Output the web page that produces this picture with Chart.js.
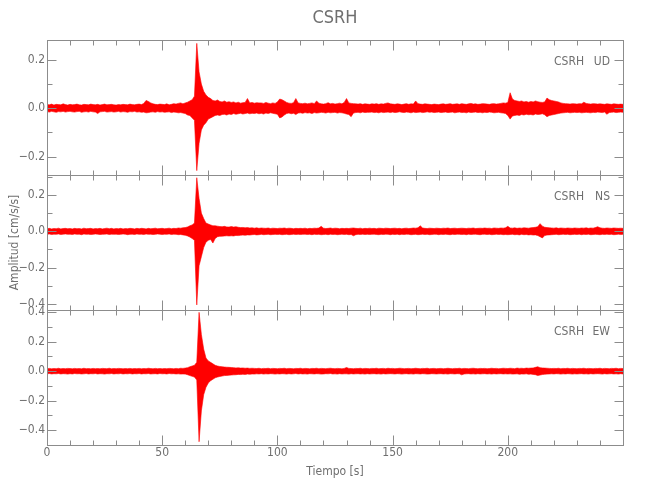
<!DOCTYPE html>
<html>
<head>
<meta charset="utf-8">
<title>CSRH</title>
<script src="https://cdn.jsdelivr.net/npm/chart.js@4.4.1/dist/chart.umd.min.js"></script>
<style>
  html, body { margin: 0; padding: 0; background: #fff; }
  #wrap { width: 650px; height: 500px; }
</style>
</head>
<body>
<div id="wrap"><canvas id="sismo" width="650" height="500"></canvas></div>
<script>
const estacion = 'CSRH';
const componentes = ['UD', 'NS', 'EW'];
const dt = 1;          // s entre valores leidos
const tMax = 249.99;   // fin del registro
const xTicks = [0, 50, 100, 150, 200];

const udSup = [
  .015,.014,.017,.013,.016,.015,.014,.018,.015,.013, .016,.014,.015,.017,.014,.013,.016,.015,.014,.017,
  .015,.014,.016,.013,.015,.017,.014,.015,.016,.014, .013,.015,.014,.016,.015,.014,.017,.015,.014,.016,
  .017,.015,.020,.032,.028,.022,.018,.016,.015,.017, .016,.015,.018,.014,.016,.019,.017,.020,.022,.018,
  .022,.025,.030,.035,.050,.268,.150,.100,.070,.055, .045,.040,.032,.030,.034,.028,.026,.030,.025,.027,
  .024,.026,.022,.025,.021,.023,.024,.040,.022,.024, .021,.023,.022,.022,.020,.024,.021,.019,.022,.020,
  .026,.038,.035,.030,.024,.021,.020,.023,.040,.022, .020,.019,.021,.018,.020,.022,.019,.030,.021,.018,
  .017,.019,.023,.018,.020,.017,.019,.021,.018,.024, .040,.022,.020,.019,.018,.017,.019,.016,.018,.017,
  .016,.018,.017,.019,.016,.018,.017,.020,.022,.018, .017,.016,.018,.017,.015,.017,.019,.016,.018,.017,
  .030,.019,.017,.016,.018,.017,.016,.015,.017,.016, .015,.017,.018,.016,.017,.019,.016,.017,.018,.016,
  .019,.017,.016,.018,.020,.017,.018,.016,.017,.019, .018,.017,.016,.018,.019,.017,.018,.020,.022,.021,
  .024,.064,.038,.032,.030,.028,.030,.026,.028,.025, .028,.026,.030,.027,.025,.024,.026,.042,.035,.032,
  .030,.028,.026,.022,.020,.019,.018,.017,.019,.018, .017,.019,.018,.025,.020,.018,.017,.019,.018,.017,
  .018,.017,.016,.018,.017,.016,.018,.017,.016,.017,.016
];
const udInf = [
  -.014,-.016,-.013,-.015,-.017,-.014,-.015,-.013,-.016,-.014, -.013,-.015,-.016,-.014,-.013,-.017,-.015,-.014,-.016,-.013,
  -.015,-.016,-.022,-.015,-.014,-.013,-.016,-.015,-.014,-.016, -.015,-.013,-.016,-.014,-.015,-.017,-.014,-.015,-.013,-.016,
  -.015,-.017,-.016,-.019,-.018,-.016,-.015,-.017,-.014,-.016, -.015,-.017,-.016,-.015,-.018,-.016,-.017,-.019,-.018,-.020,
  -.022,-.028,-.030,-.040,-.050,-.258,-.145,-.090,-.070,-.060, -.045,-.040,-.035,-.030,-.028,-.030,-.026,-.025,-.028,-.024,
  -.026,-.022,-.025,-.023,-.021,-.024,-.022,-.020,-.023,-.021, -.022,-.020,-.023,-.021,-.024,-.020,-.022,-.019,-.021,-.023,
  -.025,-.040,-.036,-.028,-.022,-.020,-.023,-.021,-.026,-.020, -.019,-.021,-.018,-.020,-.019,-.022,-.018,-.020,-.019,-.017,
  -.018,-.020,-.017,-.019,-.018,-.017,-.020,-.018,-.019,-.021, -.024,-.026,-.035,-.020,-.018,-.017,-.019,-.016,-.018,-.017,
  -.017,-.016,-.018,-.017,-.019,-.016,-.018,-.017,-.016,-.018, -.016,-.018,-.017,-.015,-.017,-.018,-.016,-.017,-.019,-.016,
  -.018,-.017,-.016,-.018,-.017,-.015,-.017,-.016,-.018,-.017, -.016,-.018,-.017,-.016,-.018,-.017,-.016,-.019,-.017,-.016,
  -.018,-.017,-.019,-.016,-.018,-.017,-.016,-.018,-.017,-.019, -.017,-.018,-.016,-.017,-.019,-.018,-.017,-.019,-.020,-.022,
  -.030,-.045,-.032,-.030,-.028,-.030,-.026,-.028,-.025,-.027, -.026,-.028,-.024,-.026,-.025,-.023,-.027,-.035,-.030,-.028,
  -.026,-.024,-.022,-.020,-.019,-.018,-.017,-.019,-.018,-.017, -.018,-.017,-.019,-.018,-.017,-.018,-.019,-.017,-.018,-.016,
  -.017,-.018,-.016,-.025,-.018,-.017,-.016,-.018,-.017,-.016,-.017
];
const nsSup = [
  .014,.016,.013,.015,.014,.017,.013,.015,.016,.014, .015,.013,.016,.014,.015,.013,.017,.014,.015,.016,
  .013,.015,.014,.016,.013,.015,.017,.014,.016,.013, .015,.014,.016,.013,.015,.014,.016,.015,.013,.016,
  .014,.016,.015,.013,.016,.014,.015,.017,.014,.015, .016,.014,.015,.017,.014,.016,.015,.018,.017,.019,
  .020,.024,.030,.035,.045,.295,.180,.100,.070,.045, .040,.035,.030,.030,.028,.026,.025,.027,.024,.023,
  .026,.023,.025,.022,.020,.021,.019,.020,.018,.019, .017,.019,.016,.018,.017,.016,.018,.015,.017,.016,
  .015,.017,.016,.018,.015,.017,.016,.014,.016,.015, .016,.015,.017,.014,.016,.015,.017,.016,.018,.027,
  .017,.015,.016,.018,.015,.017,.016,.014,.016,.015, .016,.015,.017,.018,.016,.015,.017,.014,.016,.015,
  .017,.015,.016,.014,.017,.016,.015,.017,.016,.015, .016,.017,.015,.016,.014,.016,.017,.015,.016,.018,
  .017,.019,.030,.018,.016,.015,.017,.016,.015,.017, .016,.015,.017,.016,.018,.015,.016,.017,.015,.016,
  .017,.016,.015,.017,.016,.018,.015,.016,.017,.016, .018,.016,.017,.015,.018,.017,.016,.018,.017,.019,
  .027,.018,.017,.019,.016,.018,.017,.019,.018,.017, .019,.020,.022,.025,.042,.028,.022,.020,.019,.018,
  .017,.019,.016,.018,.017,.016,.018,.017,.016,.018, .017,.016,.018,.017,.019,.016,.018,.017,.020,.025,
  .019,.017,.016,.018,.017,.016,.018,.017,.016,.017,.016
];
const nsInf = [
  -.017,-.015,-.018,-.016,-.017,-.015,-.018,-.016,-.015,-.017, -.016,-.018,-.015,-.017,-.016,-.019,-.015,-.017,-.016,-.018,
  -.017,-.015,-.016,-.018,-.017,-.016,-.015,-.018,-.016,-.017, -.016,-.018,-.017,-.015,-.016,-.019,-.017,-.016,-.018,-.015,
  -.017,-.016,-.018,-.015,-.017,-.016,-.018,-.017,-.015,-.016, -.018,-.016,-.017,-.015,-.018,-.016,-.017,-.019,-.018,-.020,
  -.022,-.026,-.032,-.040,-.050,-.406,-.190,-.140,-.090,-.060, -.050,-.045,-.065,-.040,-.030,-.028,-.027,-.026,-.025,-.026,
  -.025,-.026,-.023,-.024,-.022,-.021,-.022,-.020,-.021,-.019, -.018,-.020,-.019,-.017,-.019,-.018,-.017,-.019,-.018,-.017,
  -.018,-.017,-.019,-.018,-.017,-.019,-.018,-.016,-.018,-.017, -.018,-.017,-.016,-.018,-.017,-.019,-.016,-.018,-.017,-.019,
  -.018,-.017,-.019,-.016,-.018,-.017,-.019,-.018,-.016,-.018, -.017,-.019,-.018,-.025,-.019,-.017,-.018,-.016,-.018,-.017,
  -.018,-.017,-.016,-.018,-.019,-.017,-.018,-.016,-.017,-.019, -.017,-.018,-.016,-.019,-.017,-.018,-.016,-.017,-.019,-.018,
  -.017,-.019,-.018,-.016,-.018,-.017,-.019,-.018,-.016,-.017, -.019,-.017,-.018,-.016,-.018,-.019,-.017,-.018,-.016,-.017,
  -.018,-.017,-.019,-.016,-.018,-.017,-.016,-.018,-.019,-.017, -.016,-.018,-.017,-.019,-.018,-.016,-.018,-.017,-.019,-.018,
  -.019,-.018,-.017,-.019,-.018,-.020,-.017,-.019,-.018,-.020, -.019,-.021,-.020,-.024,-.030,-.037,-.024,-.021,-.020,-.019,
  -.018,-.017,-.019,-.018,-.016,-.018,-.017,-.019,-.018,-.017, -.018,-.016,-.019,-.017,-.018,-.016,-.019,-.018,-.017,-.018,
  -.019,-.017,-.018,-.016,-.018,-.017,-.019,-.018,-.016,-.018,-.017
];
const ewSup = [
  .017,.019,.016,.018,.017,.020,.016,.018,.017,.019, .018,.016,.019,.017,.018,.016,.020,.017,.018,.016,
  .019,.017,.018,.016,.019,.018,.017,.020,.016,.018, .017,.019,.018,.016,.018,.017,.019,.016,.018,.017,
  .019,.016,.018,.017,.020,.018,.016,.019,.017,.018, .016,.018,.017,.019,.018,.016,.019,.017,.020,.019,
  .021,.024,.030,.035,.040,.060,.400,.250,.150,.090, .070,.060,.050,.040,.035,.032,.030,.028,.027,.026,
  .025,.024,.022,.023,.021,.022,.020,.021,.019,.020, .019,.018,.020,.017,.019,.018,.020,.017,.019,.018,
  .017,.019,.018,.020,.017,.019,.018,.016,.019,.018, .020,.017,.019,.018,.016,.019,.018,.020,.017,.019,
  .018,.017,.019,.020,.018,.017,.019,.018,.016,.019, .025,.019,.018,.017,.019,.018,.020,.017,.019,.018,
  .017,.019,.018,.020,.017,.018,.019,.017,.020,.018, .019,.017,.018,.020,.019,.017,.018,.019,.017,.018,
  .020,.018,.017,.019,.018,.020,.017,.018,.019,.017, .018,.019,.017,.018,.020,.018,.017,.019,.018,.020,
  .017,.019,.018,.017,.019,.020,.018,.017,.019,.018, .019,.017,.018,.020,.018,.019,.017,.018,.020,.019,
  .018,.020,.019,.017,.021,.019,.020,.018,.021,.020, .021,.022,.026,.030,.024,.022,.021,.020,.019,.018,
  .019,.018,.020,.017,.019,.018,.020,.017,.019,.018, .017,.019,.018,.020,.017,.019,.018,.017,.019,.018,
  .020,.017,.019,.018,.017,.019,.018,.020,.017,.019,.018
];
const ewInf = [
  -.018,-.016,-.019,-.017,-.018,-.016,-.019,-.017,-.018,-.020, -.017,-.019,-.016,-.018,-.017,-.019,-.018,-.016,-.019,-.017,
  -.018,-.016,-.019,-.017,-.018,-.020,-.017,-.018,-.016,-.019, -.017,-.018,-.016,-.019,-.017,-.018,-.016,-.019,-.017,-.018,
  -.016,-.019,-.017,-.018,-.016,-.019,-.018,-.017,-.019,-.016, -.018,-.017,-.019,-.016,-.018,-.017,-.019,-.018,-.020,-.019,
  -.020,-.024,-.030,-.035,-.040,-.060,-.480,-.270,-.160,-.110, -.080,-.065,-.055,-.045,-.040,-.036,-.033,-.030,-.029,-.027,
  -.026,-.025,-.024,-.022,-.023,-.021,-.022,-.020,-.021,-.019, -.020,-.018,-.019,-.017,-.020,-.018,-.019,-.017,-.018,-.020,
  -.018,-.019,-.017,-.018,-.020,-.017,-.019,-.018,-.016,-.019, -.017,-.019,-.018,-.020,-.017,-.018,-.019,-.017,-.018,-.020,
  -.019,-.017,-.018,-.016,-.019,-.018,-.020,-.017,-.019,-.018, -.018,-.020,-.017,-.019,-.018,-.017,-.019,-.018,-.020,-.017,
  -.019,-.018,-.017,-.019,-.018,-.020,-.017,-.019,-.018,-.017, -.018,-.019,-.017,-.018,-.020,-.018,-.017,-.019,-.018,-.020,
  -.017,-.018,-.019,-.017,-.018,-.020,-.019,-.017,-.018,-.019, -.018,-.017,-.019,-.018,-.020,-.017,-.018,-.019,-.017,-.018,
  -.025,-.019,-.018,-.017,-.019,-.018,-.020,-.017,-.019,-.018, -.017,-.019,-.018,-.020,-.017,-.019,-.018,-.017,-.019,-.018,
  -.019,-.018,-.020,-.019,-.018,-.021,-.019,-.020,-.018,-.021, -.020,-.022,-.024,-.030,-.026,-.023,-.021,-.020,-.019,-.018,
  -.019,-.017,-.018,-.020,-.018,-.019,-.017,-.018,-.020,-.018, -.019,-.018,-.017,-.019,-.018,-.020,-.017,-.019,-.018,-.017,
  -.018,-.020,-.017,-.019,-.018,-.017,-.019,-.018,-.020,-.017,-.019
];

// limites de amplitud de cada panel (de arriba abajo)
const yMin = [-0.276, -0.434, -0.502];
const yMax = [0.282, 0.310, 0.416];

const colorTexto = '#6f6f6f';
const colorEje = '#8c8c8c';
const colorTraza = '#ff0000';
const fuente = '"Liberation Sans Narrow", "DejaVu Sans Condensed", sans-serif';
const panelIds = ['yUD', 'yNS', 'yEW'];
const envolventes = [[udSup, udInf], [nsSup, nsInf], [ewSup, ewInf]];

const fmtY = v => {
  const r = Math.round(v * 10) / 10;
  return (r < 0 ? '\u2212' : '') + Math.abs(r).toFixed(1);
};
const fmtX = v => {
  const t = xTicks.find(x => Math.abs(x - v) < 0.5);
  return t === undefined ? '' : String(t);
};

// titulo, caja, marcas interiores y rotulo de cada panel
const marcoSismo = {
  id: 'marcoSismo',
  afterDraw(chart) {
    const { ctx, chartArea, scales } = chart;
    const xs = scales.x;
    const L = Math.round(chartArea.left) + 0.5;
    const R = Math.round(chartArea.right) + 0.5;
    ctx.save();
    ctx.fillStyle = colorTexto;
    ctx.font = '18px ' + fuente;
    ctx.textAlign = 'center';
    ctx.textBaseline = 'middle';
    ctx.fillText(estacion, (chartArea.left + chartArea.right) / 2, 18);

    ctx.strokeStyle = colorEje;
    ctx.lineWidth = 1;
    panelIds.forEach((id, i) => {
      const s = scales[id];
      const T = Math.round(s.top) + 0.5;
      const B = Math.round(s.bottom) + 0.5;
      ctx.strokeRect(L, T, R - L, B - T);
      ctx.beginPath();
      for (let k = Math.ceil(yMin[i] * 10); k <= Math.floor(yMax[i] * 10); k++) {
        const y = Math.round(s.getPixelForValue(k / 10)) + 0.5;
        const len = k % 2 === 0 ? 9 : 5;
        ctx.moveTo(L, y); ctx.lineTo(L + len, y);
        ctx.moveTo(R, y); ctx.lineTo(R - len, y);
      }
      for (let k = 0; k * 10 <= tMax; k++) {
        const x = Math.round(xs.getPixelForValue(k * 10)) + 0.5;
        const len = k % 5 === 0 ? 10 : 5;
        ctx.moveTo(x, T); ctx.lineTo(x, T + len);
        ctx.moveTo(x, B); ctx.lineTo(x, B - len);
      }
      ctx.stroke();

      ctx.font = '12px ' + fuente;
      ctx.textAlign = 'right';
      ctx.fillText(estacion, chartArea.right - 39, s.top + 21.5);
      ctx.fillText(componentes[i], chartArea.right - 13, s.top + 21.5);
    });
    ctx.restore();
  }
};

const escalaY = (i, peso) => ({
  type: 'linear',
  position: 'left',
  stack: 'sismo',
  stackWeight: 1,
  weight: peso,
  min: yMin[i],
  max: yMax[i],
  grid: { display: false, drawTicks: false },
  border: { display: false },
  ticks: {
    stepSize: 0.2,
    includeBounds: false,
    autoSkip: false,
    padding: 2,
    color: colorTexto,
    font: { family: fuente, size: 12 },
    callback: fmtY
  },
  afterFit: s => { s.width = 47; }
});

const escalas = {
  x: {
    type: 'linear',
    min: 0,
    max: tMax,
    grid: { display: false, drawTicks: false },
    border: { display: false },
    ticks: {
      stepSize: 50,
      includeBounds: false,
      autoSkip: false,
      maxRotation: 0,
      padding: 1,
      color: colorTexto,
      font: { family: fuente, size: 12 },
      callback: fmtX
    },
    title: {
      display: true,
      text: 'Tiempo [s]',
      color: colorTexto,
      font: { family: fuente, size: 12 },
      padding: { top: 0, bottom: 21 }
    },
    afterFit: s => { s.height = 55; }
  },
  yEW: escalaY(2, 1),
  yNS: escalaY(1, 2),
  yUD: escalaY(0, 3)
};
escalas.yNS.title = {
  display: true,
  text: 'Amplitud [cm/s/s]',
  color: colorTexto,
  font: { family: fuente, size: 12 },
  padding: { top: 8, bottom: 0 }
};

const datasets = [];
envolventes.forEach(([sup, inf], i) => {
  const base = {
    yAxisID: panelIds[i],
    borderColor: colorTraza,
    backgroundColor: colorTraza,
    borderWidth: 0.6,
    pointRadius: 0,
    tension: 0
  };
  datasets.push({ ...base, label: estacion + ' ' + componentes[i] + ' sup',
    data: sup.map((v, k) => ({ x: k * dt, y: v })), fill: false });
  datasets.push({ ...base, label: estacion + ' ' + componentes[i] + ' inf',
    data: inf.map((v, k) => ({ x: k * dt, y: v })), fill: '-1' });
});

new Chart(document.getElementById('sismo'), {
  type: 'line',
  data: { datasets },
  options: {
    responsive: false,
    animation: false,
    events: [],
    layout: { padding: { left: 0, right: 27, top: 40, bottom: 0 } },
    scales: escalas,
    plugins: {
      legend: { display: false },
      tooltip: { enabled: false },
      title: { display: false }
    }
  },
  plugins: [marcoSismo]
});
</script>
</body>
</html>
